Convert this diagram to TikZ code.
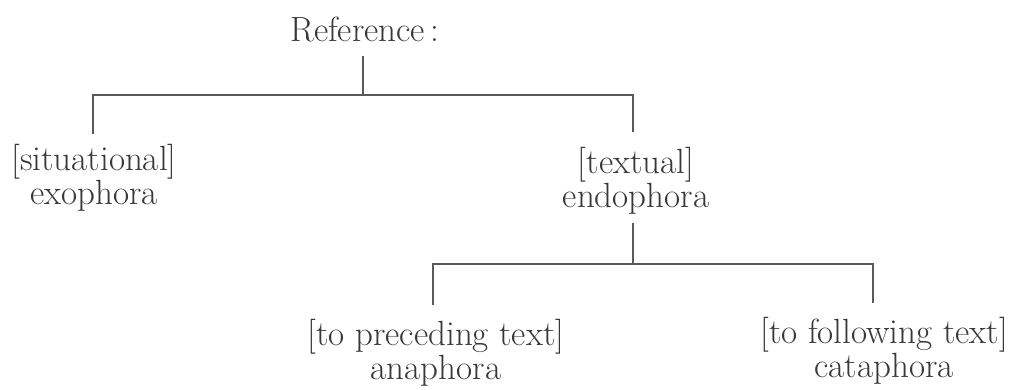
\documentclass[tikz,border=0pt]{standalone}
\usepackage{fontspec}
\begin{document}
\begin{tikzpicture}[x=1pt,y=1pt,
  lbl/.style={inner sep=0pt, align=center, anchor=base, text=black!78,
    font=\fontsize{35}{34}\selectfont},
  conn/.style={draw=black!65, line width=1.1pt}]
\useasboundingbox (0,0) rectangle (1016,390);
\node[lbl] (ref) at (365,348) {Reference\,:};
\node[lbl] (sit) at (94,185) {[situational]\\exophora};
\node[lbl] (txt) at (636,182) {[textual]\\endophora};
\node[lbl] (pre) at (436,10) {[to preceding text]\\anaphora};
\node[lbl] (fol) at (884,12) {[to following text]\\cataphora};
\coordinate (bar1) at (0,295);
\coordinate (bar2) at (0,126);
\draw[conn] ([xshift=-2pt,yshift=-13pt]ref.south) -- ([xshift=-2pt]ref.south |- bar1);
\draw[conn] ([xshift=-1pt,yshift=11pt]sit.north) -- ([xshift=-1pt]sit.north |- bar1)
  -- ([xshift=-3pt]txt.north |- bar1) -- ([xshift=-3pt,yshift=16pt]txt.north);
\draw[conn] ([xshift=-3pt,yshift=-8pt]txt.south) -- ([xshift=-3pt]txt.south |- bar2);
\draw[conn] ([xshift=-3pt,yshift=15pt]pre.north) -- ([xshift=-3pt]pre.north |- bar2)
  -- ([xshift=-11pt]fol.north |- bar2) -- ([xshift=-11pt,yshift=15pt]fol.north);
\end{tikzpicture}
\end{document}
